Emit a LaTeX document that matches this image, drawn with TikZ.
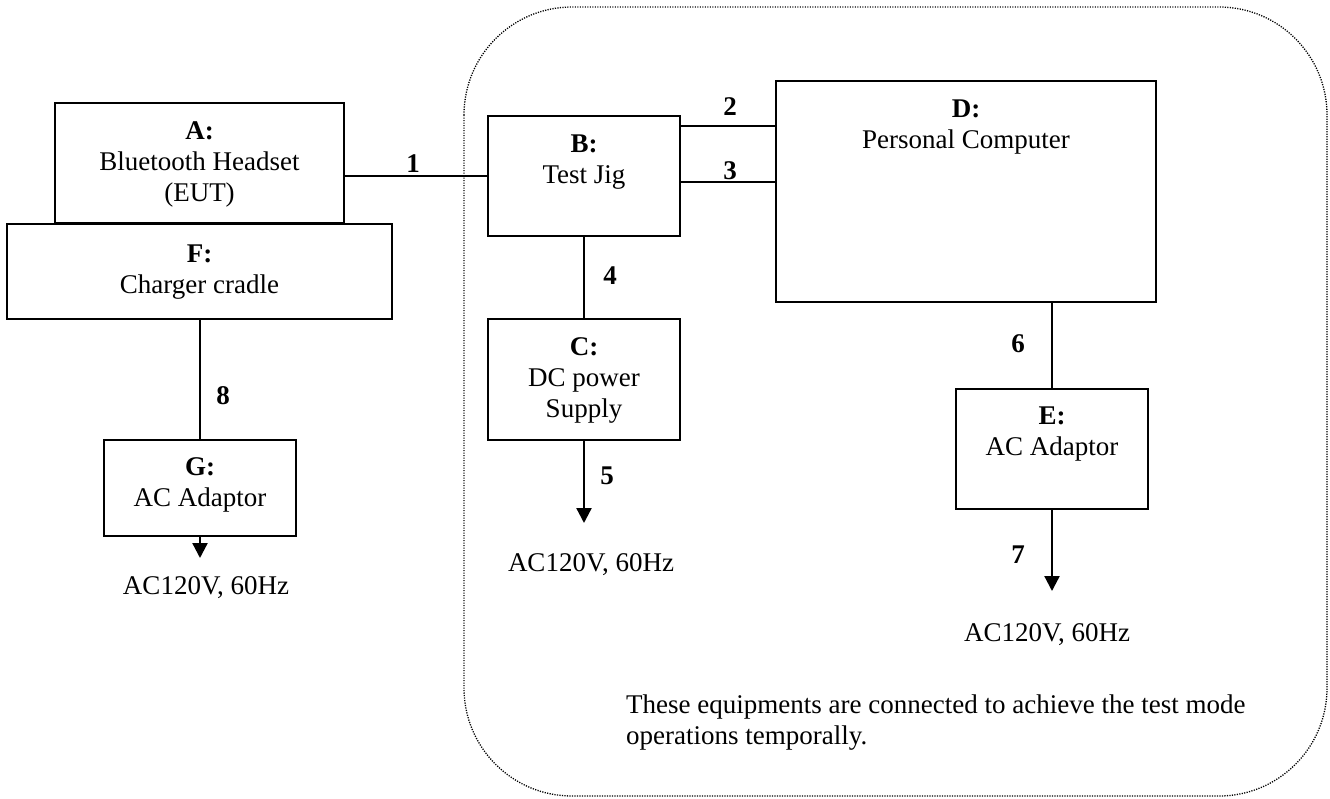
\documentclass[tikz,border=0pt]{standalone}
\usepackage{fontspec}
\setmainfont{Liberation Serif}
\usetikzlibrary{arrows.meta}
\begin{document}
\begin{tikzpicture}[x=1pt,y=-1pt,
  box/.style={draw, line width=2.2pt, rectangle, inner sep=0pt},
  txt/.style={font=\fontsize{27pt}{31pt}\selectfont, align=center, inner sep=0pt},
  num/.style={font=\fontsize{27pt}{31pt}\selectfont\bfseries, inner sep=0pt, anchor=base},
  conn/.style={line width=2.3pt},
  arr/.style={line width=2.3pt, -{Triangle[length=15pt,width=15pt]}},
  dotbox/.style={line width=1.3pt, dash pattern=on 1.2pt off 1.3pt, rounded corners=108pt}
]
\useasboundingbox (0,0) rectangle (1330,798);
\fill[white] (0,0) rectangle (1330,798);

% dotted region
\draw[dotbox] (464,7) rectangle (1327,796);

% boxes
\node[box, minimum width=289pt, minimum height=120pt] (A) at (199.5,163) {};
\node[box, minimum width=385pt, minimum height=95pt] (F) at (199.5,271.5) {};
\node[box, minimum width=192pt, minimum height=96pt] (G) at (200,488) {};
\node[box, minimum width=192pt, minimum height=120pt] (B) at (584,176) {};
\node[box, minimum width=192pt, minimum height=121pt] (C) at (584,379.5) {};
\node[box, minimum width=380pt, minimum height=221pt] (D) at (966,191.5) {};
\node[box, minimum width=192pt, minimum height=120pt] (E) at (1052,449) {};

% box texts
\node[txt, anchor=north] (At) at ([yshift=-20pt]A.north) {\textbf{A:}\\Bluetooth Headset\\(EUT)};
\node[txt, anchor=north] (Ft) at ([yshift=-22pt]F.north) {\textbf{F:}\\Charger cradle};
\node[txt, anchor=north] (Gt) at ([yshift=-19pt]G.north) {\textbf{G:}\\AC Adaptor};
\node[txt, anchor=north] (Bt) at ([yshift=-20pt]B.north) {\textbf{B:}\\Test Jig};
\node[txt, anchor=north] (Ct) at ([yshift=-20pt]C.north) {\textbf{C:}\\DC power\\Supply};
\node[txt, anchor=north] (Dt) at ([yshift=-20pt]D.north) {\textbf{D:}\\Personal Computer};
\node[txt, anchor=north] (Et) at ([yshift=-19pt]E.north) {\textbf{E:}\\AC Adaptor};

% end points of arrows
\coordinate (c5) at (584,523);
\coordinate (c7) at (1052,591);
\coordinate (c8) at (200,558);

% connectors
\draw[conn] (B.west) -- (B.west -| A.east);
\draw[conn] ([yshift=-11pt]B.north east) -- ([yshift=-11pt]B.north east -| D.west);
\draw[conn] ([yshift=-67pt]B.north east) -- ([yshift=-67pt]B.north east -| D.west);
\draw[conn] (B.south) -- (C.north);
\draw[arr] (C.south) -- (c5);
\draw[conn] (E.north) -- (E.north |- D.south);
\draw[arr] (E.south) -- (c7);
\draw[conn] (F.south -| G.north) -- (G.north);
\draw[arr] (G.south) -- (c8);

% connector numbers
\node[num] (l1) at (413,172) {1};
\node[num] (l2) at (730,115) {2};
\node[num] (l3) at (730,179) {3};
\node[num] (l4) at (610,284) {4};
\node[num] (l5) at (607,484) {5};
\node[num] (l6) at (1018,352) {6};
\node[num] (l7) at (1018,563) {7};
\node[num] (l8) at (223,404) {8};

% supply texts
\node[txt, anchor=base] (ac1) at (206,594) {AC120V, 60Hz};
\node[txt, anchor=base] (ac2) at (591,571) {AC120V, 60Hz};
\node[txt, anchor=base] (ac3) at (1047,641) {AC120V, 60Hz};

% note
\node[txt, align=left, anchor=north west] (note) at (626,695) {These equipments are connected to achieve the test mode\\operations temporally.};
\end{tikzpicture}
\end{document}
